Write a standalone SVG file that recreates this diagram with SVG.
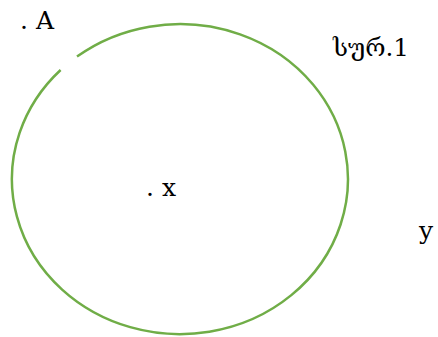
<svg xmlns="http://www.w3.org/2000/svg" width="438" height="337" viewBox="0 0 438 337">
<style>
.lbl{font-family:"DejaVu Serif","Liberation Serif",serif;font-size:25px;fill:#000}
.geo{font-family:"DejaVu Serif","DejaVu Sans",serif;font-size:25px;fill:#000}
.ring{fill:none;stroke:#70AD47;stroke-width:2.5}
</style>
<rect width="438" height="337" fill="#fff"/>
<g id="connectors"></g>
<g id="circle">
<path class="ring" d="M 77 56.6 A 168 155 0 1 1 60.6 70"/>
</g>
<g id="labelA"><text class="lbl" x="20" y="29">. A</text></g>
<g id="caption"><text class="geo" x="333" y="56" textLength="76" lengthAdjust="spacingAndGlyphs">სურ.1</text></g>
<g id="labelX"><text class="lbl" x="146" y="196">. x</text></g>
<g id="labelY"><text class="lbl" x="419" y="239">y</text></g>
</svg>
